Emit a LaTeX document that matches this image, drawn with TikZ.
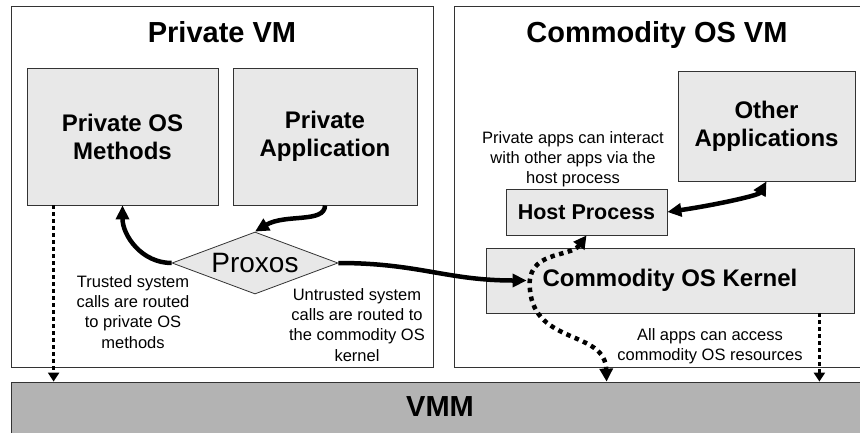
\documentclass[tikz,border=0pt]{standalone}
\usepackage{fontspec}
\setmainfont{Liberation Sans}
\usetikzlibrary{arrows.meta,shapes.geometric}
\definecolor{boxfill}{HTML}{E8E8E8}
\definecolor{vmmfill}{HTML}{B3B3B3}
\definecolor{edgecol}{HTML}{333333}
\begin{document}
\begin{tikzpicture}[x=1pt,y=-1pt,
  vmbox/.style={draw=edgecol, line width=0.8pt, fill=white, rectangle, inner sep=0pt},
  compbox/.style={draw=edgecol, line width=0.8pt, fill=boxfill, rectangle, inner sep=0pt, align=center, font=\bfseries\fontsize{24}{28}\selectfont},
  vmtitle/.style={font=\bfseries\fontsize{29}{32}\selectfont, inner sep=0pt},
  note/.style={font=\fontsize{16.5}{20.3}\selectfont, align=center, anchor=north, inner sep=0pt},
  flow/.style={line width=4.5pt, -{Triangle[length=14pt,width=13pt]}},
  flowboth/.style={line width=4.5pt, {Triangle[length=14pt,width=13pt]}-{Triangle[length=14pt,width=13pt]}},
  dotboth/.style={line width=4.5pt, dash pattern=on 4.5pt off 4.5pt, {Triangle[length=13pt,width=13pt]}-{Triangle[length=13pt,width=13pt]}},
  vdot/.style={line width=3.5pt, dash pattern=on 3.5pt off 3.5pt, -{Triangle[length=9pt,width=11pt]}}
]
\useasboundingbox (0,0) rectangle (860,432);
\fill[white] (0,0) rectangle (860,432);

% VM containers
\node[vmbox, minimum width=422pt, minimum height=361pt] (privvm) at (222,186.5) {};
\node[vmbox, minimum width=412pt, minimum height=361pt] (commvm) at (660,186.5) {};
\node[draw=edgecol, line width=0.8pt, fill=vmmfill, rectangle, inner sep=0pt, minimum width=859pt, minimum height=70pt] (vmm) at (440.5,417) {};

% titles
\node[vmtitle, anchor=base] (privtitle) at (222,42) {Private VM};
\node[vmtitle, anchor=base] (commtitle) at (657,42) {Commodity OS VM};
\node[vmtitle] (vmmtitle) at (440,407) {VMM};

% component boxes
\node[compbox, minimum width=191pt, minimum height=137pt] (pom) at (122.5,136.5) {Private OS\\Methods};
\node[compbox, minimum width=184pt, minimum height=137pt] (pa) at (325,136.5) {Private\\Application};
\node[compbox, minimum width=177pt, minimum height=110pt] (oa) at (766.5,126) {Other\\Applications};
\node[compbox, minimum width=161pt, minimum height=46pt, font=\bfseries\fontsize{21.5}{24}\selectfont] (hp) at (586.5,212) {Host Process};
\node[compbox, minimum width=368pt, minimum height=65pt] (kernel) at (670,280.5) {Commodity OS Kernel};
\node[diamond, draw=edgecol, line width=0.8pt, fill=boxfill, inner sep=0pt, aspect=2.7, minimum width=166pt, minimum height=62pt, font=\fontsize{28}{30}\selectfont] (proxos) at (255,263) {Proxos};

% notes
\node[note] (n1) at (573,131) {Private apps can interact\\with other apps via the\\host process};
\node[note] (n2) at (133,275) {Trusted system\\calls are routed\\to private OS\\methods};
\node[note] (n3) at (357,288) {Untrusted system\\calls are routed to\\the commodity OS\\kernel};
\node[note] (n4) at (710,328) {All apps can access\\commodity OS resources};

% helper coordinates
\coordinate (kin) at ([xshift=41pt]kernel.west);
\coordinate (vmmhit) at ([xshift=596pt]vmm.north west);
\coordinate (d1) at ([xshift=27pt]pom.south west);
\coordinate (d2) at ([xshift=-35pt]kernel.south east);
\coordinate (bend) at (530,290);

% connectors
\draw[flow] (pa.south) .. controls +(0,18) and +(30,-18) .. (proxos.north);
\draw[flow] (proxos.west) .. controls +(-30,0) and +(0,30) .. (pom.south);
\draw[flow] (proxos.east) .. controls +(80,0) and +(-80,0) .. (kin);
\draw[flowboth] (hp.east) .. controls +(48,-7) and +(-8,14) .. (oa.south);
\draw[dotboth] (hp.south) .. controls (570,258) and (525,250) .. (bend) .. controls (535,345) and (605,330) .. (vmmhit);
\draw[vdot] (d1) -- (d1 |- vmm.north);
\draw[vdot] (d2) -- (d2 |- vmm.north);
\end{tikzpicture}
\end{document}
